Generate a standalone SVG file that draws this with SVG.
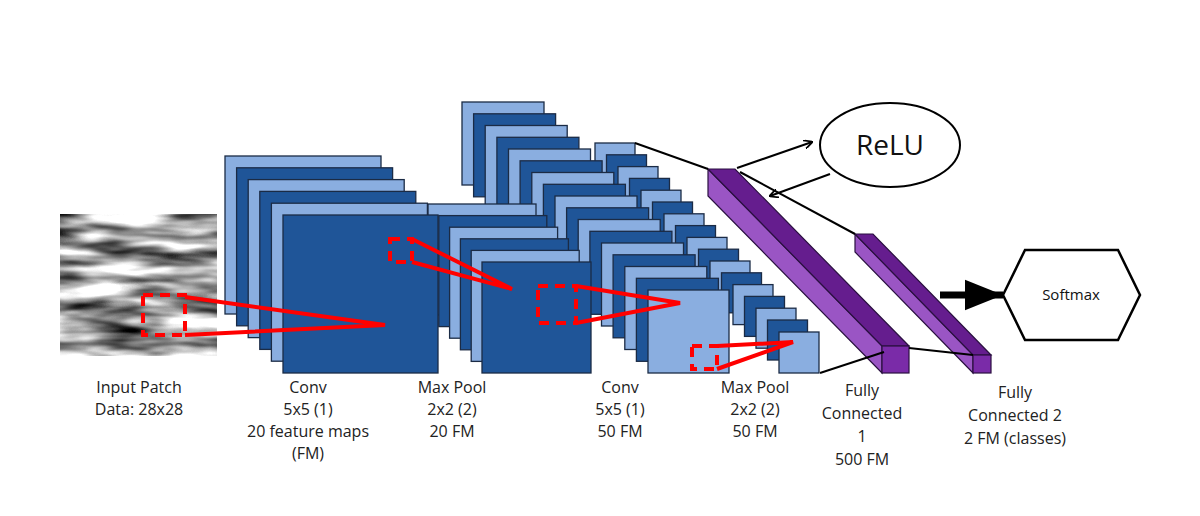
<svg xmlns="http://www.w3.org/2000/svg" width="1200" height="516" viewBox="0 0 1200 516">
<defs>
<style>
.l{fill:#8aaee0;stroke:#1b2b45;stroke-width:1.3}
.d{fill:#1f5598;stroke:#1b2b45;stroke-width:1.3}
.red{stroke:#ff0000;stroke-width:4;fill:none}
.dash{stroke:#ff0000;stroke-width:4;fill:none;stroke-dasharray:10 7}
.blk{stroke:#000;stroke-width:2;fill:none}
.t{font-family:"Open Sans","Liberation Sans",sans-serif;font-size:16px;fill:#222;text-anchor:middle}
.pt{fill:#9a55c4;stroke:#2a1040;stroke-width:1.2}
.pd{fill:#651d8e;stroke:#2a1040;stroke-width:1.2}
.pm{fill:#7a2ba8;stroke:#2a1040;stroke-width:1.2}
</style>
<filter id="noise" x="0" y="0" width="1" height="1" color-interpolation-filters="sRGB">
<feTurbulence type="fractalNoise" baseFrequency="0.012 0.06" numOctaves="3" seed="7"/>
<feColorMatrix type="matrix" values="2.2 0 0 0 -0.45  2.2 0 0 0 -0.45  2.2 0 0 0 -0.45  0 0 0 0 1"/>
</filter>
<marker id="ah" viewBox="0 0 10 10" refX="9" refY="5" markerWidth="9" markerHeight="9" orient="auto" markerUnits="userSpaceOnUse"><path d="M0,0 L10,5 L0,10" fill="none" stroke="#000" stroke-width="2"/></marker>
<marker id="big" viewBox="0 0 10 10" refX="10" refY="5" markerWidth="38" markerHeight="38" orient="auto" markerUnits="userSpaceOnUse"><path d="M0,1 L10,5 L0,9 Z" fill="#000"/></marker>
</defs>
<rect width="1200" height="516" fill="#fff"/>

<g id="input">
<rect x="60" y="214" width="157" height="142" fill="#888" filter="url(#noise)"/>
</g>

<g id="maxpool2">
<rect class="l" x="595" y="143" width="40" height="40"/>
<rect class="d" x="606.5" y="154.8" width="40" height="40"/>
<rect class="l" x="618" y="166.6" width="40" height="40"/>
<rect class="d" x="629.5" y="178.4" width="40" height="40"/>
<rect class="l" x="641" y="190.2" width="40" height="40"/>
<rect class="d" x="652.5" y="202" width="40" height="40"/>
<rect class="l" x="664" y="213.8" width="40" height="40"/>
<rect class="d" x="675.5" y="225.6" width="40" height="40"/>
<rect class="l" x="687" y="237.4" width="40" height="40"/>
<rect class="d" x="698.5" y="249.2" width="40" height="40"/>
<rect class="l" x="710" y="261" width="40" height="40"/>
<rect class="d" x="721.5" y="272.8" width="40" height="40"/>
<rect class="l" x="733" y="284.6" width="40" height="40"/>
<rect class="d" x="744.5" y="296.4" width="40" height="40"/>
<rect class="l" x="756" y="308.2" width="40" height="40"/>
<rect class="d" x="767.5" y="320" width="40" height="40"/>
<rect class="l" x="779" y="332" width="40" height="41"/>
</g>

<g id="conv2">
<rect class="l" x="462" y="102" width="82" height="83"/>
<rect class="d" x="473.6" y="113.8" width="82" height="83"/>
<rect class="l" x="485.2" y="125.5" width="82" height="83"/>
<rect class="d" x="496.9" y="137.3" width="82" height="83"/>
<rect class="l" x="508.5" y="149" width="82" height="83"/>
<rect class="d" x="520.1" y="160.8" width="82" height="83"/>
<rect class="l" x="531.8" y="172.5" width="82" height="83"/>
<rect class="d" x="543.4" y="184.3" width="82" height="83"/>
<rect class="l" x="555" y="196" width="82" height="83"/>
<rect class="d" x="566.6" y="207.8" width="82" height="83"/>
<rect class="l" x="578.2" y="219.5" width="82" height="83"/>
<rect class="d" x="589.9" y="231.3" width="82" height="83"/>
<rect class="l" x="601.5" y="243" width="82" height="83"/>
<rect class="d" x="613.1" y="254.8" width="82" height="83"/>
<rect class="l" x="624.8" y="266.5" width="82" height="83"/>
<rect class="d" x="636.4" y="278.3" width="82" height="83"/>
<rect class="l" x="648" y="290" width="81" height="83"/>
</g>

<g id="maxpool1">
<rect class="l" x="428" y="204" width="108" height="111"/>
<rect class="d" x="438.8" y="215.6" width="108" height="111"/>
<rect class="l" x="449.6" y="227.2" width="108" height="111"/>
<rect class="d" x="460.4" y="238.8" width="108" height="111"/>
<rect class="l" x="471.2" y="250.4" width="108" height="111"/>
<rect class="d" x="482" y="262" width="109" height="111"/>
</g>

<g id="conv1">
<rect class="l" x="225" y="156" width="156" height="158"/>
<rect class="d" x="236.6" y="167.8" width="156" height="158"/>
<rect class="l" x="248.2" y="179.6" width="156" height="158"/>
<rect class="d" x="259.8" y="191.4" width="156" height="158"/>
<rect class="l" x="271.4" y="203.2" width="156" height="158"/>
<rect class="d" x="283" y="215" width="155" height="158"/>
</g>

<g id="fc1">
<polygon class="pt" points="708,169 708,196 882,373 882,346"/>
<polygon class="pd" points="708,169 735,169 909,346 882,346"/>
<rect class="pm" x="882" y="346" width="27" height="27"/>
</g>

<g id="fc2">
<polygon class="pt" points="855,234 855,252 973,373 973,355"/>
<polygon class="pd" points="855,234 873,234 991,355 973,355"/>
<rect class="pm" x="973" y="355" width="18" height="18"/>
</g>

<g id="relu">
<ellipse cx="890" cy="145" rx="70" ry="42" fill="#fff" stroke="#000" stroke-width="2"/>
<text x="890" y="155" font-family="'Open Sans','Liberation Sans',sans-serif" font-size="28" text-anchor="middle" fill="#111">ReLU</text>
</g>

<g id="softmax">
<polygon points="1003,295 1025,250 1118,250 1140,295 1118,340 1025,340" fill="#fff" stroke="#000" stroke-width="2.5"/>
<text x="1071" y="300" font-family="'Open Sans','Liberation Sans',sans-serif" font-size="15" text-anchor="middle" fill="#111">Softmax</text>
</g>

<g id="connectors">
<rect class="dash" x="143" y="295" width="42" height="40"/>
<polyline class="red" points="185,297 385,325 185,335"/>
<rect class="dash" x="390" y="239" width="22" height="23"/>
<polyline class="red" points="412,239 512,289 412,262"/>
<rect class="dash" x="538" y="286" width="38" height="37"/>
<polyline class="red" points="576,286 680,303 576,323"/>
<rect class="dash" x="692" y="346" width="25" height="23"/>
<polyline class="red" points="717,346 793,342 717,369"/>
<line class="blk" x1="635" y1="143" x2="708" y2="169"/>
<line class="blk" x1="740" y1="172" x2="855" y2="234"/>
<line class="blk" x1="820" y1="373" x2="884" y2="352"/>
<line class="blk" x1="909" y1="348" x2="973" y2="355"/>
<line class="blk" x1="737" y1="168" x2="812" y2="142" marker-end="url(#ah)"/>
<line class="blk" x1="830" y1="174" x2="770" y2="196" marker-end="url(#ah)"/>
<line x1="940" y1="295" x2="1003" y2="295" stroke="#000" stroke-width="7" marker-end="url(#big)"/>
</g>

<g id="labels">
<text class="t" x="139" y="393">Input Patch</text>
<text class="t" x="139" y="415">Data: 28x28</text>
<text class="t" x="308" y="393">Conv</text>
<text class="t" x="308" y="415">5x5 (1)</text>
<text class="t" x="308" y="437">20 feature maps</text>
<text class="t" x="308" y="459">(FM)</text>
<text class="t" x="452" y="393">Max Pool</text>
<text class="t" x="452" y="415">2x2 (2)</text>
<text class="t" x="452" y="437">20 FM</text>
<text class="t" x="620" y="393">Conv</text>
<text class="t" x="620" y="415">5x5 (1)</text>
<text class="t" x="620" y="437">50 FM</text>
<text class="t" x="755" y="393">Max Pool</text>
<text class="t" x="755" y="415">2x2 (2)</text>
<text class="t" x="755" y="437">50 FM</text>
<text class="t" x="862" y="396">Fully</text>
<text class="t" x="862" y="419">Connected</text>
<text class="t" x="862" y="442">1</text>
<text class="t" x="862" y="465">500 FM</text>
<text class="t" x="1015" y="398">Fully</text>
<text class="t" x="1015" y="421">Connected 2</text>
<text class="t" x="1015" y="444">2 FM (classes)</text>
</g>
</svg>
